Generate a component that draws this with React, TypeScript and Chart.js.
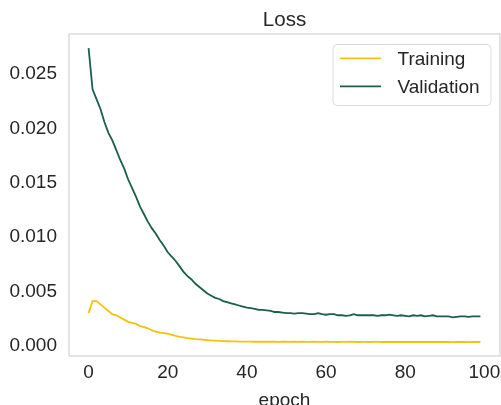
import React, { useEffect, useRef } from "react";
import { Chart, registerables } from "chart.js";

Chart.register(...registerables);

const epochs: number[] = Array.from({ length: 100 }, (_, i) => i);

const trainingLoss: number[] = [
  0.0030, 0.0041, 0.0041, 0.0038, 0.0035, 0.0032, 0.0029, 0.0028, 0.0026, 0.0024,
  0.0022, 0.0021, 0.0020, 0.0018, 0.0017, 0.0016, 0.0014, 0.0013, 0.0012, 0.00115,
  0.0011, 0.0010, 0.0009, 0.00082, 0.00076, 0.0007, 0.00065, 0.0006, 0.00058, 0.00055,
  0.0005, 0.00048, 0.00046, 0.00044, 0.00042, 0.00041, 0.0004, 0.00039, 0.00038, 0.00037,
  0.00038, 0.00037, 0.00036, 0.00037, 0.00036, 0.00036, 0.00037, 0.00036, 0.00035, 0.00036,
  0.00036, 0.00035, 0.00036, 0.00035, 0.00036, 0.00035, 0.00035, 0.00036, 0.00035, 0.00035,
  0.00036, 0.00035, 0.00035, 0.00034, 0.00035, 0.00035, 0.00036, 0.00035, 0.00034, 0.00035,
  0.00035, 0.00034, 0.00035, 0.00035, 0.00034, 0.00035, 0.00034, 0.00034, 0.00035, 0.00034,
  0.00034, 0.00035, 0.00034, 0.00034, 0.00035, 0.00034, 0.00034, 0.00034, 0.00035, 0.00034,
  0.00034, 0.00034, 0.00033, 0.00034, 0.00034, 0.00034, 0.00033, 0.00034, 0.00034, 0.00034,
];

const validationLoss: number[] = [
  0.0274, 0.0236, 0.0227, 0.0218, 0.0206, 0.0196, 0.0189, 0.0180, 0.0171, 0.0163,
  0.0153, 0.0145, 0.0137, 0.0128, 0.0121, 0.0114, 0.0108, 0.0103, 0.0097, 0.0092,
  0.0086, 0.0082, 0.0078, 0.0073, 0.0068, 0.0064, 0.0061, 0.0057, 0.0054, 0.0051,
  0.0048, 0.0046, 0.0044, 0.0043, 0.0041, 0.0040, 0.0039, 0.0038, 0.0037, 0.0036,
  0.0035, 0.00345, 0.0034, 0.0033, 0.0033, 0.00325, 0.0032, 0.0031, 0.0031, 0.00305,
  0.0030, 0.0030, 0.00295, 0.0030, 0.0030, 0.00295, 0.0029, 0.0029, 0.0030, 0.0029,
  0.00285, 0.0029, 0.0029, 0.0028, 0.0028, 0.00275, 0.0028, 0.0029, 0.0028, 0.0028,
  0.0028, 0.0028, 0.0028, 0.00275, 0.0028, 0.0028, 0.00285, 0.0028, 0.00275, 0.0028,
  0.00275, 0.0027, 0.0028, 0.00275, 0.0028, 0.0027, 0.00275, 0.0028, 0.0027, 0.0027,
  0.0027, 0.0027, 0.0026, 0.00265, 0.0027, 0.0027, 0.00265, 0.0027, 0.0027, 0.0027,
];

const xTicks: number[] = [0, 20, 40, 60, 80, 100];
const yTicks: number[] = [0, 0.005, 0.01, 0.015, 0.02, 0.025];

const titleText = "Loss";
const xLabel = "epoch";
const seriesNames: string[] = ["Training", "Validation"];
const seriesColors: string[] = ["#f4c20d", "#1b5e4c"];

const FONT = "'Liberation Sans', Arial, sans-serif";
const TEXT = "#262626";

const decorPlugin = {
  id: "decor",
  afterDraw(chart: any) {
    const { ctx, chartArea } = chart;
    const { left, right, top, bottom } = chartArea;
    ctx.save();
    ctx.strokeStyle = "#d4d4d4";
    ctx.lineWidth = 1.25;
    ctx.strokeRect(left, top, right - left, bottom - top);
    ctx.fillStyle = TEXT;
    ctx.font = `20.5px ${FONT}`;
    ctx.textAlign = "center";
    ctx.textBaseline = "middle";
    ctx.fillText(titleText, (left + right) / 2, 20);
    ctx.font = `19px ${FONT}`;
    ctx.fillText(xLabel, (left + right) / 2, 401);
    const bx = 333, by = 44.5, bw = 158, bh = 61, r = 4;
    ctx.beginPath();
    ctx.moveTo(bx + r, by);
    ctx.lineTo(bx + bw - r, by);
    ctx.arcTo(bx + bw, by, bx + bw, by + r, r);
    ctx.lineTo(bx + bw, by + bh - r);
    ctx.arcTo(bx + bw, by + bh, bx + bw - r, by + bh, r);
    ctx.lineTo(bx + r, by + bh);
    ctx.arcTo(bx, by + bh, bx, by + bh - r, r);
    ctx.lineTo(bx, by + r);
    ctx.arcTo(bx, by, bx + r, by, r);
    ctx.closePath();
    ctx.fillStyle = "rgba(255,255,255,0.85)";
    ctx.fill();
    ctx.strokeStyle = "#dcdcdc";
    ctx.lineWidth = 1;
    ctx.stroke();
    const rows = [58.3, 86.3];
    chart.data.datasets.forEach((ds: any, i: number) => {
      const y = rows[i];
      ctx.strokeStyle = ds.borderColor;
      ctx.lineWidth = 1.8;
      ctx.beginPath();
      ctx.moveTo(340, y);
      ctx.lineTo(381, y);
      ctx.stroke();
      ctx.fillStyle = TEXT;
      ctx.font = `19px ${FONT}`;
      ctx.textAlign = "left";
      ctx.textBaseline = "middle";
      ctx.fillText(ds.label, 397.5, y + 1);
    });
    ctx.restore();
  },
};

export default function App() {
  const ref = useRef<HTMLCanvasElement | null>(null);

  useEffect(() => {
    document.body.style.margin = "0";
    if (!ref.current) return;
    const chart = new Chart(ref.current, {
      type: "line",
      data: {
        labels: epochs,
        datasets: [
          {
            label: seriesNames[0],
            data: epochs.map((e, i) => ({ x: e, y: trainingLoss[i] })),
            borderColor: seriesColors[0],
            borderWidth: 1.8,
            pointRadius: 0,
            tension: 0,
            fill: false,
          },
          {
            label: seriesNames[1],
            data: epochs.map((e, i) => ({ x: e, y: validationLoss[i] })),
            borderColor: seriesColors[1],
            borderWidth: 1.8,
            pointRadius: 0,
            tension: 0,
            fill: false,
          },
        ],
      },
      options: {
        animation: false,
        responsive: false,
        devicePixelRatio: 1,
        layout: { padding: { top: 34, right: 1, left: 0, bottom: 0 } },
        plugins: {
          legend: { display: false },
          title: { display: false },
          tooltip: { enabled: false },
        },
        scales: {
          x: {
            type: "linear",
            min: -4.95,
            max: 103.95,
            grid: { display: false, drawTicks: false },
            border: { display: false },
            afterBuildTicks: (s: any) => {
              s.ticks = xTicks.map((v) => ({ value: v }));
            },
            afterFit: (s: any) => {
              s.height = 49;
              s.paddingLeft = 0;
              s.paddingRight = 0;
              s.paddingTop = 0;
              s.paddingBottom = 0;
            },
            ticks: {
              padding: 5,
              color: TEXT,
              font: { family: FONT, size: 19 },
              maxRotation: 0,
              autoSkip: false,
              callback: (v: any) => String(v),
            },
          },
          y: {
            type: "linear",
            min: -0.00095,
            max: 0.0287,
            grid: { display: false, drawTicks: false },
            border: { display: false },
            afterBuildTicks: (s: any) => {
              s.ticks = yTicks.map((v) => ({ value: v }));
            },
            afterFit: (s: any) => {
              s.width = 69;
              s.paddingLeft = 0;
              s.paddingRight = 0;
              s.paddingTop = 0;
              s.paddingBottom = 0;
            },
            ticks: {
              padding: 12,
              color: TEXT,
              font: { family: FONT, size: 19 },
              autoSkip: false,
              callback: (v: any) => Number(v).toFixed(3),
            },
          },
        },
      },
      plugins: [decorPlugin],
    });
    return () => chart.destroy();
  }, []);

  return (
    <div style={{ position: "absolute", left: 0, top: 0, width: 501, height: 405, background: "#fff" }}>
      <canvas ref={ref} width={501} height={405} style={{ width: 501, height: 405 }} />
    </div>
  );
}
